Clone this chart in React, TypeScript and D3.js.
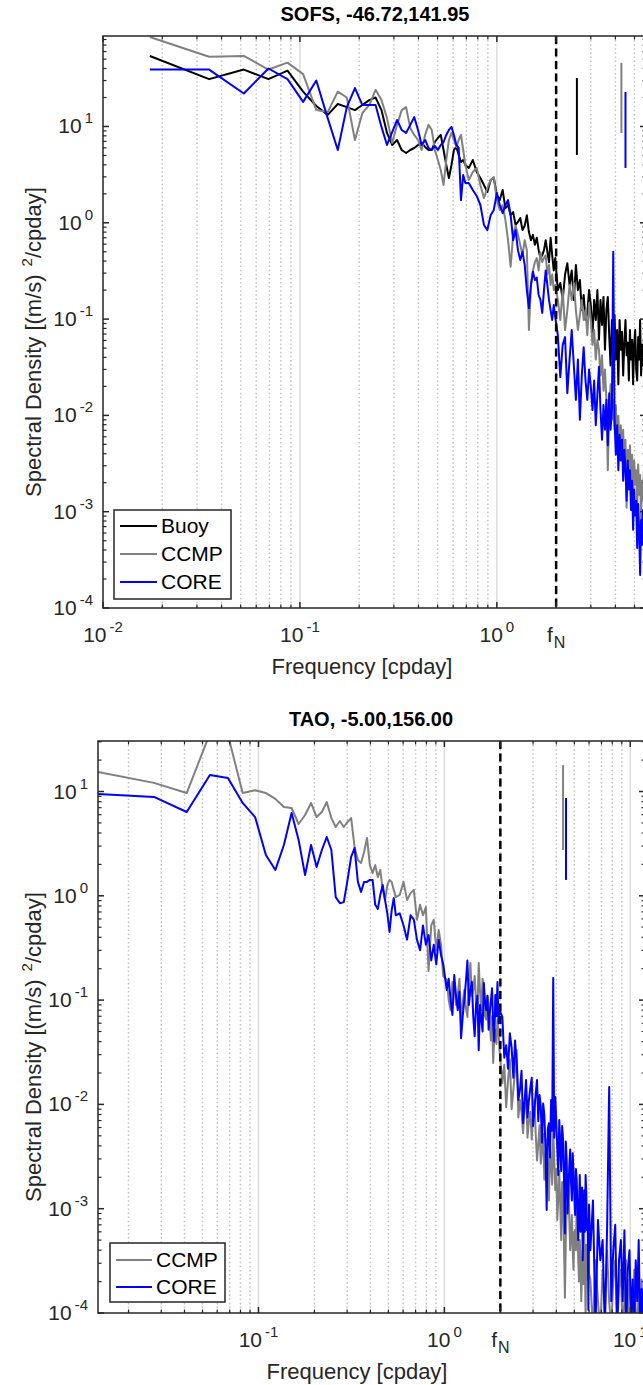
import React from 'react';
import * as d3 from 'd3';

// ---------------- DATA ----------------
// SOFS panel (-46.72, 141.95)
const sofsFreq = [
  0.0173, 0.0346, 0.0519, 0.0692, 0.0865, 0.1038, 0.1211, 0.1384, 0.1557, 0.173,
  0.1903, 0.2076, 0.2249, 0.2422, 0.2595, 0.2768, 0.2941, 0.3114, 0.3287, 0.346,
  0.3633, 0.3806, 0.3979, 0.4152, 0.4325, 0.4498, 0.4671, 0.4844, 0.5017, 0.519,
  0.5363, 0.5536, 0.5709, 0.5882, 0.6055, 0.6228, 0.6401, 0.6574, 0.6747, 0.692,
  0.72, 0.755, 0.79, 0.825, 0.86, 0.895, 0.93, 0.965, 1.0, 1.035,
  1.07, 1.105, 1.14, 1.175, 1.21, 1.245, 1.28, 1.315, 1.35, 1.385,
  1.42, 1.455, 1.49, 1.525, 1.56, 1.595, 1.63, 1.665, 1.7, 1.735,
  1.77, 1.805, 1.84, 1.875, 1.91, 1.945, 1.98,
  2.04, 2.1, 2.16, 2.22, 2.28, 2.34, 2.4, 2.46, 2.52, 2.58,
  2.64, 2.7, 2.76, 2.82, 2.88, 2.94, 3.0, 3.06, 3.12, 3.18,
  3.24, 3.3, 3.36, 3.42, 3.48, 3.54, 3.6, 3.66, 3.72, 3.78,
  3.84, 3.9, 3.96, 4.02, 4.08, 4.14, 4.2, 4.26, 4.32, 4.38,
  4.44, 4.5, 4.56, 4.62, 4.68, 4.74, 4.8, 4.86, 4.92, 4.98,
  5.04, 5.1, 5.16, 5.22, 5.28, 5.34, 5.4, 5.46, 5.52, 5.58,
  5.64, 5.7,
];
const sofsBuoy = [
  54, 31, 39, 31, 38, 23, 16.3, 13.2, 17.1, 15.9, 14.8, 16.7, 18.8, 20, 14.8, 8.57, 6.43, 7.24, 5.7, 5.31,
  5.7, 5.98, 6.43, 6.74, 6.13, 5.7, 5.7, 6.9, 7.59, 8.17, 5.7, 3.98, 2.92, 3.98, 5.7, 6.13, 5.06, 4.28, 4.49, 3.98,
  3.71, 4.49, 3.37, 2.92, 2.47, 2.09, 2.78, 2.92, 1.94, 1.72, 2.19, 1.42, 1.53, 1.2, 1.29, 0.95, 1.02, 1.12, 0.84, 0.93,
  1.2, 0.8, 0.66, 0.75, 0.59, 0.7, 0.52, 0.43, 0.46, 0.52, 0.66, 0.5, 0.39, 0.7, 0.46, 0.32, 0.43,
  0.2, 0.237, 0.158, 0.29, 0.38, 0.226, 0.32, 0.158, 0.365, 0.2,
  0.254, 0.124, 0.178, 0.098, 0.116, 0.2, 0.14, 0.068, 0.158, 0.098,
  0.2, 0.061, 0.158, 0.087, 0.17, 0.048, 0.124, 0.17, 0.068, 0.033,
  0.098, 0.051, 0.11, 0.038, 0.077, 0.021, 0.098, 0.048, 0.074, 0.026,
  0.057, 0.098, 0.042, 0.057, 0.023, 0.077, 0.038, 0.061, 0.021, 0.054,
  0.077, 0.03, 0.023, 0.065, 0.038, 0.098, 0.026, 0.054, 0.033, 0.061,
  0.03, 0.048,
];
const sofsCCMP = [
  85, 53, 54, 39, 46, 35, 14.8, 14.1, 23, 20, 7.24, 13.8, 16.7, 24, 18.8, 12.2, 6.73, 10.4, 14.8, 15.9,
  9.66, 8.17, 7.24, 5.7, 8.17, 10.4, 9.2, 5.7, 4.49, 3.53, 2.47, 4.49, 7.24, 8.57, 7.24, 6.13, 7.24, 8.17, 5.7, 3.98,
  2.78, 3.37, 3.71, 2.47, 1.81, 2.3, 2.78, 2.99, 1.72, 1.36, 1.53, 1.07, 0.66, 0.35, 0.75, 0.93, 0.75, 0.59, 0.46, 0.66,
  0.52, 0.077, 0.226, 0.32, 0.39, 0.43, 0.32, 0.49, 0.39, 0.43, 0.46, 0.29, 0.365, 0.226, 0.29, 0.2, 0.226,
  0.158, 0.098, 0.2, 0.077, 0.124, 0.226, 0.158, 0.237, 0.124, 0.077,
  0.11, 0.158, 0.098, 0.124, 0.068, 0.147, 0.098, 0.054, 0.077, 0.038,
  0.061, 0.048, 0.026, 0.042, 0.018, 0.03, 0.0145, 0.0027, 0.0114, 0.021,
  0.009, 0.0145, 0.0071, 0.0128, 0.0056, 0.0099, 0.0044, 0.0079, 0.0039, 0.0071,
  0.0027, 0.0056, 0.0011, 0.0044, 0.0024, 0.0049, 0.0021, 0.0039, 0.0015, 0.0034,
  0.0019, 0.0027, 0.00104, 0.0031, 0.0015, 0.0024, 0.00082, 0.0021, 0.0013, 0.0027,
  0.0012, 0.0019,
];
const sofsCORE = [
  39, 39, 22, 40, 31, 18, 30, 12.2, 5.7, 15.9, 25, 16.7, 16.7, 16.7, 9.9, 6.43, 8.76, 11.7, 9.2, 8.57,
  10.4, 12.5, 9.2, 6.43, 7.24, 5.98, 5.7, 6.28, 5.7, 6.43, 6.9, 8.17, 9.2, 9.9, 8.17, 6.43, 5.98, 1.72, 3.14, 2.59,
  2.59, 2.19, 1.9, 1.53, 0.95, 0.84, 1.2, 1.36, 2.04, 1.53, 1.26, 1.53, 1.72, 1.2, 0.66, 0.84, 0.52, 0.41, 0.5, 0.365,
  0.2, 0.13, 0.226, 0.31, 0.254, 0.27, 0.178, 0.158, 0.116, 0.2, 0.32, 0.226, 0.158, 0.124, 0.098, 0.14, 0.105,
  0.068, 0.025, 0.054, 0.065, 0.017, 0.038, 0.077, 0.033, 0.0145, 0.038,
  0.009, 0.026, 0.051, 0.023, 0.0145, 0.03, 0.02, 0.0114, 0.023, 0.0079,
  0.0163, 0.032, 0.0114, 0.0056, 0.0128, 0.0071, 0.0145, 0.0049, 0.017, 0.0071,
  0.0114, 0.5, 0.009, 0.0039, 0.0079, 0.0027, 0.0063, 0.0034, 0.0056, 0.0021,
  0.0044, 0.0027, 0.0013, 0.0034, 0.0017, 0.0027, 0.00104, 0.0021, 0.00065, 0.0017,
  0.00092, 0.0013, 0.00042, 0.0012, 0.00065, 0.00022, 0.00082, 0.00045, 0.00104, 0.00051,
  0.00073, 0.00032,
];
// 95% confidence bars (Buoy, CCMP, CORE)
const sofsCIFreq = [2.55, 4.29, 4.5];
const sofsCILow = [5.06, 8.57, 3.71];
const sofsCIHigh = [31.9, 45.7, 22.8];

// TAO panel (-5.00, 156.00)
const taoFreq = [
  0.0137, 0.0274, 0.0411, 0.0548, 0.0685, 0.0822, 0.0959, 0.1096, 0.1233, 0.137,
  0.1507, 0.1644, 0.1781, 0.1918, 0.2055, 0.2192, 0.2329, 0.2466, 0.2603, 0.274,
  0.2877, 0.3014, 0.3151, 0.3288, 0.3425, 0.3562, 0.3699, 0.3836, 0.3973, 0.411,
  0.4247, 0.4384, 0.4521, 0.4658, 0.4795, 0.4932, 0.5069, 0.5206, 0.5343, 0.548,
  0.575, 0.603, 0.63, 0.658, 0.685, 0.712, 0.74, 0.767, 0.795, 0.822, 0.85, 0.877, 0.904, 0.932, 0.959, 0.986,
  1.03, 1.055, 1.08, 1.105, 1.13, 1.155, 1.18, 1.205, 1.23, 1.255,
  1.28, 1.305, 1.33, 1.355, 1.38, 1.405, 1.43, 1.455, 1.48, 1.505,
  1.53, 1.555, 1.58, 1.605, 1.63, 1.655, 1.68, 1.705, 1.73, 1.755,
  1.78, 1.805, 1.83, 1.855, 1.88, 1.905, 1.93, 1.955, 1.98,
  2.05, 2.1, 2.15, 2.2, 2.25, 2.3, 2.35, 2.4, 2.45, 2.5,
  2.55, 2.6, 2.65, 2.7, 2.75, 2.8, 2.85, 2.9, 2.95, 3.0,
  3.05, 3.1, 3.15, 3.2, 3.25, 3.3, 3.35, 3.4, 3.45, 3.5,
  3.55, 3.6, 3.65, 3.7, 3.75, 3.8, 3.85, 3.9, 3.95, 4.0,
  4.05, 4.1, 4.15, 4.2, 4.25, 4.3, 4.35, 4.4, 4.45, 4.5,
  4.55, 4.6, 4.65, 4.7, 4.75, 4.8, 4.85, 4.9, 4.95, 5.0,
  5.05, 5.1, 5.15, 5.2, 5.25, 5.3, 5.35, 5.4, 5.45, 5.5,
  5.55, 5.6, 5.65, 5.7, 5.75, 5.8, 5.85, 5.9, 5.95, 6.0,
  6.1, 6.3, 6.5, 6.7, 6.9, 7.1, 7.3, 7.5, 7.7, 7.9,
  8.1, 8.3, 8.5, 8.7, 8.9, 9.1, 9.3, 9.5, 9.7, 9.9,
  10.1, 10.3, 10.5, 10.7, 10.9, 11.1, 11.3, 11.5, 11.7, 11.9, 12.1,
];
const taoCCMP = [
  15.4, 12.1, 9.66, 36, 35, 9.67, 10.3, 9.66, 8.5, 7.1, 6.95, 4.88, 5.95, 7.77, 5.69, 6.36, 7.93, 5.56, 4.57, 5.21,
  4.57, 5.1, 5.56, 2.94, 2.2, 2.06, 2.63, 3.58, 1.97, 1.65, 1.97, 1.51, 1.77, 1.14, 0.91, 1.27, 1.42, 1.36, 1.14, 0.97,
  1.02, 1.36, 0.91, 1.06, 1.14, 0.59, 0.82, 0.65, 0.78, 0.19, 0.52, 0.59, 0.3, 0.47, 0.34, 0.17,
  0.156, 0.1, 0.08, 0.15, 0.14, 0.09, 0.112, 0.16, 0.069, 0.095,
  0.125, 0.085, 0.069, 0.14, 0.227, 0.11, 0.125, 0.17, 0.1, 0.075,
  0.227, 0.12, 0.08, 0.16, 0.14, 0.07, 0.065, 0.11, 0.09, 0.06,
  0.041, 0.07, 0.025, 0.045, 0.052, 0.038, 0.065, 0.05, 0.033,
  0.016, 0.024, 0.0094, 0.017, 0.027, 0.009, 0.0138, 0.021, 0.033, 0.0075,
  0.011, 0.0085, 0.0053, 0.0098, 0.0123, 0.0048, 0.0071, 0.0085, 0.0046, 0.0078,
  0.011, 0.0052, 0.0029, 0.0042, 0.0063, 0.0027, 0.0037, 0.0052, 0.0019, 0.0031,
  0.0046, 0.0024, 0.0012, 0.0041, 0.0026, 0.0017, 0.0057, 0.0029, 0.0015, 0.0024,
  0.00078, 0.0013, 0.0023, 0.0011, 0.0005, 0.0018, 0.0012, 0.00045, 0.00014, 0.0005,
  0.00097, 0.0011, 0.0019, 0.0008, 0.0004, 0.0006, 0.00087, 0.0004, 0.00026, 0.0006,
  0.00062, 0.0004, 0.0012, 0.0007, 0.00032, 0.0002, 0.0005, 0.0003, 0.00013, 0.00028,
  0.0004, 0.00019, 0.00062, 0.0003, 0.000086, 0.00045, 0.00032, 0.00021, 0.0005, 0.00024,
  0.00021, 0.000069, 0.00032, 0.00013, 0.000069, 0.00026, 0.000107, 0.0004, 0.00013, 0.000069,
  0.00021, 0.00032, 0.000069, 0.00017, 0.00026, 0.000069, 0.00013, 0.00032, 0.000069, 0.00021,
  0.00013, 0.000069, 0.00026, 0.000107, 0.000069, 0.00017, 0.000069, 0.00021, 0.000069, 0.00013, 0.000069,
];
const taoCORE = [
  9.46, 8.88, 6.36, 14.4, 13.5, 7.77, 5.69, 2.46, 1.77, 3.07, 6.22, 3.43, 1.58, 3.07, 1.89, 2.75, 3.66, 2.75, 0.97, 0.85,
  0.87, 1.42, 2.36, 2.87, 1.36, 1.09, 1.36, 1.36, 1.42, 1.42, 0.82, 0.75, 1.02, 1.27, 0.91, 0.68, 0.45, 0.73, 0.95, 0.65,
  0.68, 0.52, 0.38, 0.65, 0.59, 0.38, 0.3, 0.52, 0.34, 0.42, 0.24, 0.34, 0.22, 0.38, 0.27, 0.22,
  0.125, 0.16, 0.1, 0.072, 0.174, 0.11, 0.08, 0.12, 0.043, 0.07,
  0.1, 0.15, 0.24, 0.09, 0.125, 0.15, 0.069, 0.045, 0.09, 0.11,
  0.033, 0.09, 0.065, 0.05, 0.146, 0.095, 0.08, 0.11, 0.052, 0.075,
  0.1, 0.13, 0.058, 0.04, 0.112, 0.07, 0.149, 0.06, 0.08,
  0.069, 0.028, 0.037, 0.022, 0.048, 0.035, 0.018, 0.041, 0.025, 0.011,
  0.0138, 0.021, 0.0066, 0.0105, 0.0171, 0.0075, 0.011, 0.0145, 0.018, 0.0062,
  0.0088, 0.0128, 0.0171, 0.0069, 0.0123, 0.0095, 0.0043, 0.0102, 0.0079, 0.0038,
  0.00097, 0.0058, 0.0066, 0.0031, 0.011, 0.0056, 0.163, 0.0048, 0.0118, 0.0068,
  0.0037, 0.0021, 0.0071, 0.0041, 0.0023, 0.0062, 0.0046, 0.0019, 0.00058, 0.0044,
  0.0029, 0.0009, 0.0015, 0.0026, 0.0037, 0.0018, 0.0012, 0.0034, 0.0023, 0.0013,
  0.00087, 0.0024, 0.0019, 0.0009, 0.0005, 0.0011, 0.0021, 0.0006, 0.0012, 0.0016,
  0.00032, 0.0009, 0.0015, 0.0006, 0.0021, 0.0014, 0.00062, 0.0008, 0.000107, 0.0011,
  0.0004, 0.0012, 0.000069, 0.00078, 0.00032, 0.0005, 0.000069, 0.00062, 0.0147, 0.00013,
  0.0004, 0.0007, 0.000069, 0.00032, 0.0005, 0.00013, 0.00062, 0.000069, 0.00026, 0.0004,
  0.000086, 0.00021, 0.000069, 0.00032, 0.00013, 0.0005, 0.000069, 0.00017, 0.000086, 0.00026, 0.000069,
];
const taoCIFreq = [4.35, 4.51];
const taoCILow = [2.75, 1.42];
const taoCIHigh = [17.9, 8.67];

const nyquistFreq = 2;
const yTickValues = [1e-4, 1e-3, 1e-2, 1e-1, 1, 10];
const yTickLabels = ['10^-4', '10^-3', '10^-2', '10^-1', '10^0', '10^1'];
const sofsXTickValues = [0.01, 0.1, 1, 2];
const sofsXTickLabels = ['10^-2', '10^-1', '10^0', 'f_N'];
const taoXTickValues = [0.1, 1, 2, 10];
const taoXTickLabels = ['10^-1', '10^0', 'f_N', '10^1'];
const sofsNames = ['Buoy', 'CCMP', 'CORE'];
const taoNames = ['CCMP', 'CORE'];

// ---------------- STYLE ----------------
const FONT = "'Liberation Sans', Arial, Helvetica, sans-serif";
const AX = '#262626';
const COLORS: Record<string, string> = { Buoy: '#000000', CCMP: '#808080', CORE: '#0000ff' };

function TickLabel({ x, y, label, anchor }: { x: number; y: number; label: string; anchor: string }) {
  const sup = label.match(/^(.*?)\^(.*)$/);
  const sub = label.match(/^(.*?)_(.*)$/);
  if (sup) {
    return (
      <text x={x} y={y} textAnchor={anchor} fontSize={21} fill={AX} fontFamily={FONT}>
        {sup[1]}
        <tspan dx={3} dy={-10} fontSize={15}>{sup[2]}</tspan>
      </text>
    );
  }
  if (sub) {
    return (
      <text x={x} y={y} textAnchor={anchor} fontSize={21} fill={AX} fontFamily={FONT}>
        {sub[1]}
        <tspan dx={1} dy={6} fontSize={16}>{sub[2]}</tspan>
      </text>
    );
  }
  return (
    <text x={x} y={y} textAnchor={anchor} fontSize={21} fill={AX} fontFamily={FONT}>{label}</text>
  );
}

function logTicks(domain: number[]) {
  const out: { v: number; m: number }[] = [];
  const e0 = Math.floor(Math.log10(domain[0]));
  const e1 = Math.ceil(Math.log10(domain[1]));
  for (let e = e0; e <= e1; e++) {
    for (let m = 1; m <= 9; m++) {
      const v = m * Math.pow(10, e);
      if (v >= domain[0] * 0.9999 && v <= domain[1] * 1.0001) out.push({ v, m });
    }
  }
  return out;
}

type PanelProps = {
  id: string;
  left: number; right: number; top: number; bottom: number;
  xDomain: number[]; yDomain: number[];
  freq: number[];
  series: { name: string; values: number[] }[];
  ciFreq: number[]; ciLow: number[]; ciHigh: number[];
  xTickValues: number[]; xTickLabels: string[];
  title: string; titleX: number; titleY: number;
  xLabelX: number;
  legend: { x: number; y: number; w: number; h: number; row0: number; rowGap: number; lx0: number; lx1: number; tx: number };
};

function Panel(p: PanelProps) {
  const xs = d3.scaleLog().domain(p.xDomain).range([p.left, p.right]);
  const ys = d3.scaleLog().domain(p.yDomain).range([p.bottom, p.top]);
  const line = d3.line<[number, number]>().x((d) => xs(d[0])).y((d) => ys(d[1]));
  const xt = logTicks(p.xDomain);
  const yt = logTicks(p.yDomain);
  const clipId = `clip-${p.id}`;
  const MAJ = 6, MIN = 3.5;
  const majorX = p.xTickValues.filter((v) => v >= p.xDomain[0] && v <= p.xDomain[1]);
  const minorX = xt.filter((t) => t.m !== 1 && !majorX.some((v) => Math.abs(v - t.v) < 1e-9)).map((t) => t.v);
  const yMid = (p.top + p.bottom) / 2 + 20;
  return (
    <g>
      <defs>
        <clipPath id={clipId}>
          <rect x={p.left} y={p.top} width={p.right - p.left} height={p.bottom - p.top} />
        </clipPath>
      </defs>
      {/* vertical grid */}
      {xt.filter((t) => t.v > p.xDomain[0] * 1.001 && t.v < p.xDomain[1] * 0.999).map((t, i) => (
        <line key={`g${i}`} x1={xs(t.v)} x2={xs(t.v)} y1={p.top} y2={p.bottom}
          stroke={t.m === 1 ? '#dcdcdc' : '#c2c2c2'} strokeWidth={1.5}
          strokeDasharray={t.m === 1 ? undefined : '1.5 2.6'} />
      ))}
      {/* series */}
      <g clipPath={`url(#${clipId})`}>
        {p.series.map((s) => (
          <path key={s.name} d={line(d3.zip(p.freq, s.values) as [number, number][]) || ''}
            fill="none" stroke={COLORS[s.name]} strokeWidth={2} strokeLinejoin="round" />
        ))}
        {p.series.map((s, i) => (
          <line key={`ci${i}`} x1={xs(p.ciFreq[i])} x2={xs(p.ciFreq[i])} y1={ys(p.ciLow[i])} y2={ys(p.ciHigh[i])}
            stroke={COLORS[s.name]} strokeWidth={2} />
        ))}
        <line x1={xs(nyquistFreq)} x2={xs(nyquistFreq)} y1={p.top} y2={p.bottom} stroke="#000" strokeWidth={2.5} strokeDasharray="8 4.5" />
      </g>
      {/* axes box */}
      <rect x={p.left} y={p.top} width={p.right - p.left} height={p.bottom - p.top} fill="none" stroke={AX} strokeWidth={1.5} />
      {/* x ticks */}
      {majorX.map((v, i) => (
        <g key={`xm${i}`}>
          <line x1={xs(v)} x2={xs(v)} y1={p.bottom} y2={p.bottom - MAJ} stroke={AX} strokeWidth={1.5} />
          <line x1={xs(v)} x2={xs(v)} y1={p.top} y2={p.top + MAJ} stroke={AX} strokeWidth={1.5} />
        </g>
      ))}
      {minorX.map((v, i) => (
        <g key={`xn${i}`}>
          <line x1={xs(v)} x2={xs(v)} y1={p.bottom} y2={p.bottom - MIN} stroke={AX} strokeWidth={1.2} />
          <line x1={xs(v)} x2={xs(v)} y1={p.top} y2={p.top + MIN} stroke={AX} strokeWidth={1.2} />
        </g>
      ))}
      {/* y ticks */}
      {yt.map((t, i) => {
        const L = t.m === 1 ? MAJ : MIN;
        const w = t.m === 1 ? 1.5 : 1.2;
        return (
          <g key={`yt${i}`}>
            <line x1={p.left} x2={p.left + L} y1={ys(t.v)} y2={ys(t.v)} stroke={AX} strokeWidth={w} />
            <line x1={p.right} x2={p.right - L} y1={ys(t.v)} y2={ys(t.v)} stroke={AX} strokeWidth={w} />
          </g>
        );
      })}
      {/* tick labels */}
      {p.xTickValues.map((v, i) => (
        <TickLabel key={`xl${i}`} x={xs(v)} y={p.bottom + 34} label={p.xTickLabels[i]} anchor="middle" />
      ))}
      {yTickValues.map((v, i) => (
        <TickLabel key={`yl${i}`} x={p.left - 10} y={ys(v) + 7} label={yTickLabels[i]} anchor="end" />
      ))}
      {/* title and axis labels */}
      <text x={p.titleX} y={p.titleY} textAnchor="middle" fontSize={20} fontWeight="bold" fill="#000" fontFamily={FONT}>{p.title}</text>
      <text x={p.xLabelX} y={p.bottom + 66} textAnchor="middle" fontSize={22} fill={AX} fontFamily={FONT}>Frequency [cpday]</text>
      <text transform={`translate(41,${yMid}) rotate(-90)`} textAnchor="middle" fontSize={22} fill={AX} fontFamily={FONT}>
        Spectral Density [(m/s)
        <tspan dx={8} dy={-9} fontSize={15}>2</tspan>
        <tspan dy={9} fontSize={22}>/cpday]</tspan>
      </text>
      {/* legend */}
      <rect x={p.legend.x} y={p.legend.y} width={p.legend.w} height={p.legend.h} fill="#fff" stroke={AX} strokeWidth={1.5} />
      {p.series.map((s, i) => {
        const ry = p.legend.row0 + i * p.legend.rowGap;
        return (
          <g key={`lg${i}`}>
            <line x1={p.legend.lx0} x2={p.legend.lx1} y1={ry} y2={ry} stroke={COLORS[s.name]} strokeWidth={2} />
            <text x={p.legend.tx} y={ry + 7} fontSize={21} fill="#000" fontFamily={FONT}>{s.name}</text>
          </g>
        );
      })}
    </g>
  );
}

export default function App() {
  const sofsSeries = [
    { name: sofsNames[0], values: sofsBuoy },
    { name: sofsNames[1], values: sofsCCMP },
    { name: sofsNames[2], values: sofsCORE },
  ];
  const taoSeries = [
    { name: taoNames[0], values: taoCCMP },
    { name: taoNames[1], values: taoCORE },
  ];
  return (
    <svg width={643} height={1385} style={{ position: 'absolute', left: 0, top: 0, background: '#fff' }}
      xmlns="http://www.w3.org/2000/svg">
      <rect x={0} y={0} width={643} height={1385} fill="#fff" />
      <Panel id="sofs" left={103} right={646} top={36} bottom={608}
        xDomain={[0.01, 5.72]} yDomain={[1e-4, 87]}
        freq={sofsFreq} series={sofsSeries}
        ciFreq={sofsCIFreq} ciLow={sofsCILow} ciHigh={sofsCIHigh}
        xTickValues={sofsXTickValues} xTickLabels={sofsXTickLabels}
        title="SOFS, -46.72,141.95" titleX={375} titleY={21} xLabelX={362}
        legend={{ x: 114, y: 510, w: 117, h: 89, row0: 526, rowGap: 28, lx0: 120, lx1: 157, tx: 161 }} />
      <Panel id="tao" left={98} right={645} top={741} bottom={1313}
        xDomain={[0.0137, 12]} yDomain={[1e-4, 30.5]}
        freq={taoFreq} series={taoSeries}
        ciFreq={taoCIFreq} ciLow={taoCILow} ciHigh={taoCIHigh}
        xTickValues={taoXTickValues} xTickLabels={taoXTickLabels}
        title="TAO, -5.00,156.00" titleX={371} titleY={726} xLabelX={357}
        legend={{ x: 110, y: 1243, w: 115, h: 59, row0: 1260, rowGap: 27, lx0: 116, lx1: 152, tx: 156 }} />
    </svg>
  );
}
